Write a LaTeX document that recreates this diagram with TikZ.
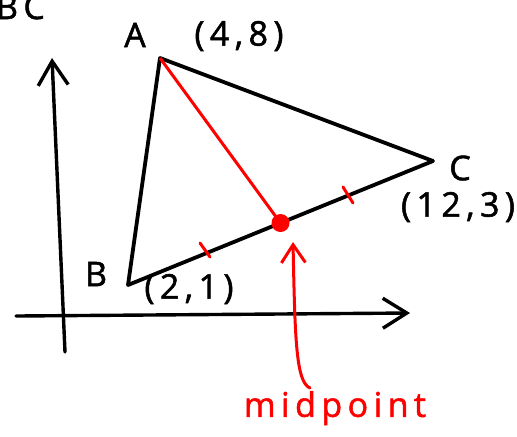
\documentclass[tikz,border=0pt]{standalone}
\usepackage{fontspec}
\setmainfont{Open Sans}
\usetikzlibrary{arrows.meta,calc}
\begin{document}
\begin{tikzpicture}[x=0.5pt,y=-0.5pt,
    axis/.style={line width=1.7pt, line cap=round, -{Straight Barb[length=12pt,width=15pt,line width=1.7pt]}},
    side/.style={line width=1.9pt, line cap=round, line join=round},
    label/.style={font=\fontsize{17}{19}\selectfont\addfontfeature{LetterSpace=16,FakeBold=1.6}},
    redlabel/.style={label, color=red},
    tick/.style={red, line width=1.5pt, line cap=round}]
        \useasboundingbox (0,0) rectangle (517,436);
        % axes
        \coordinate (yb) at (65,352);
        \coordinate (yt) at (52,58);
        \coordinate (xl) at (16,316);
        \coordinate (xr) at (410,313);
        \draw[axis] (yb) -- (yt);
        \draw[axis] (xl) -- (xr);
        % triangle
        \coordinate (A) at (160,58);
        \coordinate (B) at (128,285);
        \coordinate (C) at (433,161);
        \coordinate (M) at ($(B)!0.5!(C)$);
        \draw[side] (A) -- (B) -- (C) -- cycle;
        % median from A to the midpoint of BC
        \draw[red, line width=1.5pt] (A) -- (M);
        \fill[red] (M) circle (9);
        % equal-length ticks on BC
        \draw[tick] (200,243) -- (210,257);
        \draw[tick] (343,187) -- (353,203);
        % labels
        \node[label, anchor=base east] (bc) at (52,19) {BC};
        \node[label] (la) at (135,35) {A};
        \node[label] (pa) at (239,36) {(4,8)};
        \node[label] (lb) at (96,274) {B};
        \node[label] (pb) at (189,289) {(2,1)};
        \node[label] (lc) at (460,168) {C};
        \node[label] (pc) at (458,207) {(12,3)};
        \node[redlabel] (mid) at (335,408) {midpoint};
        % pointer to the midpoint
        \coordinate (tail) at (310,388);
        \coordinate (tip) at (293,242);
        \draw[red, line width=1.5pt, line cap=round, -{Straight Barb[length=9pt,width=12pt,line width=1.5pt]}]
            (tail) .. controls (296,382) and (295,340) .. (tip);
\end{tikzpicture}
\end{document}
